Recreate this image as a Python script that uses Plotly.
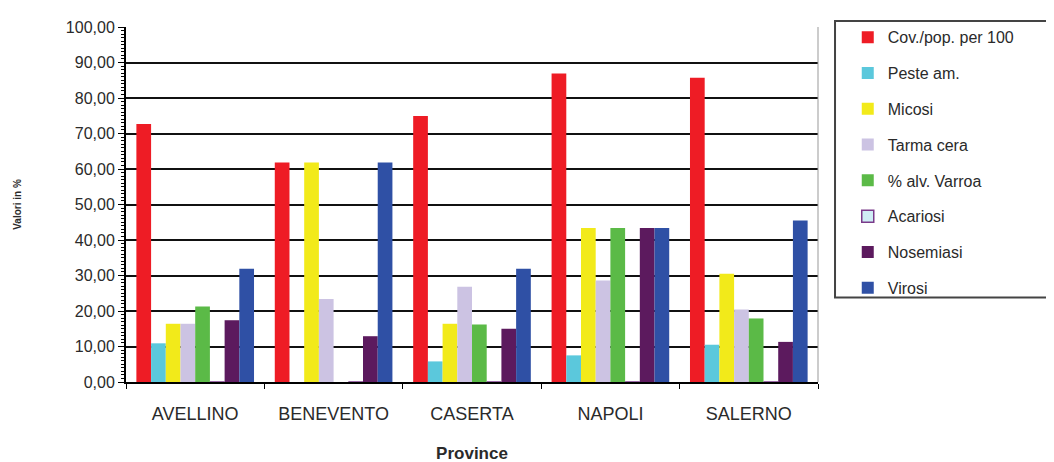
import plotly.graph_objects as go

provinces = ["AVELLINO", "BENEVENTO", "CASERTA", "NAPOLI", "SALERNO"]
series_names = ["Cov./pop. per 100", "Peste am.", "Micosi", "Tarma cera",
                "% alv. Varroa", "Acariosi", "Nosemiasi", "Virosi"]
cov_pop = [72.7, 61.8, 74.9, 86.9, 85.7]
peste = [10.9, 0.0, 5.8, 7.5, 10.5]
micosi = [16.4, 61.8, 16.4, 43.4, 30.5]
tarma = [16.4, 23.4, 26.8, 28.6, 20.4]
varroa = [21.3, 0.0, 16.2, 43.4, 17.9]
acariosi = [0.0, 0.0, 0.0, 0.0, 0.0]
nosemiasi = [17.4, 12.9, 15.0, 43.4, 11.3]
virosi = [31.9, 61.8, 31.9, 43.4, 45.5]

values = [cov_pop, peste, micosi, tarma, varroa, acariosi, nosemiasi, virosi]
colors = ["#ee1c25", "#5bc8dc", "#f2ea1a", "#ccc3e3", "#5bba47", "#cfeef5", "#5c1a5e", "#2f50a5"]
lines = ["#ee1c25", "#5bc8dc", "#f2ea1a", "#b9acd8", "#5bba47", "#7a3a8a", "#3a0f3c", "#2f50a5"]

fig = go.Figure()
for i, (name, vals) in enumerate(zip(series_names, values)):
    fig.add_trace(go.Bar(
        x=provinces, y=vals, name=name,
        marker=dict(color=colors[i], line=dict(color=lines[i], width=1.5 if i == 5 else 0)),
        legendgroup=f"g{i}",
    ))

font_family = "Liberation Sans, Arial, sans-serif"
fig.update_layout(
    width=1054, height=462,
    margin=dict(l=118, r=244, t=12, b=88),
    paper_bgcolor="white", plot_bgcolor="white",
    barmode="group", bargap=0.15, bargroupgap=0,
    separators=", ",
    font=dict(family=font_family, size=16, color="#2a2a2a"),
    showlegend=True,
    legend=dict(
        x=1.043, y=1.019, xanchor="left", yanchor="top",
        font=dict(size=16, color="#2a2a2a"),
        tracegroupgap=12, bgcolor="rgba(0,0,0,0)", borderwidth=0,
        maxheight=440,
    ),
    xaxis=dict(
        automargin=False,
        showline=True, linecolor="black", linewidth=2,
        ticks="outside", tickson="boundaries", ticklen=5, tickcolor="black",
        tickfont=dict(size=18, color="#2a2a2a"),
        ticklabelstandoff=14,
        title=dict(text="<b>Province</b>", font=dict(size=17, color="#2a2a2a"), standoff=25),
        showgrid=False,
    ),
    yaxis=dict(
        automargin=False,
        range=[0, 100], dtick=10, tickformat=".2f",
        showline=True, linecolor="black", linewidth=2,
        ticks="outside", ticklen=6, tickcolor="black",
        showgrid=True, gridcolor="#111", gridwidth=2,
        zeroline=False,
        minor=dict(dtick=1, ticks="outside", ticklen=3, tickcolor="black", showgrid=False),
        tickfont=dict(size=16, color="#2a2a2a"),
        title=dict(text="<b>Valori in %</b>", font=dict(size=10, color="#2a2a2a"), standoff=42),
    ),
    shapes=[
        dict(type="rect", xref="paper", yref="paper", x0=1.0246, x1=1.332, y0=0.238, y1=1.017,
             line=dict(color="#444", width=2), fillcolor="rgba(0,0,0,0)", layer="below"),
        dict(type="line", xref="paper", yref="paper", x0=1, x1=1, y0=0, y1=1,
             line=dict(color="#999", width=1)),
    ],
)

fig.write_html("out.html")
